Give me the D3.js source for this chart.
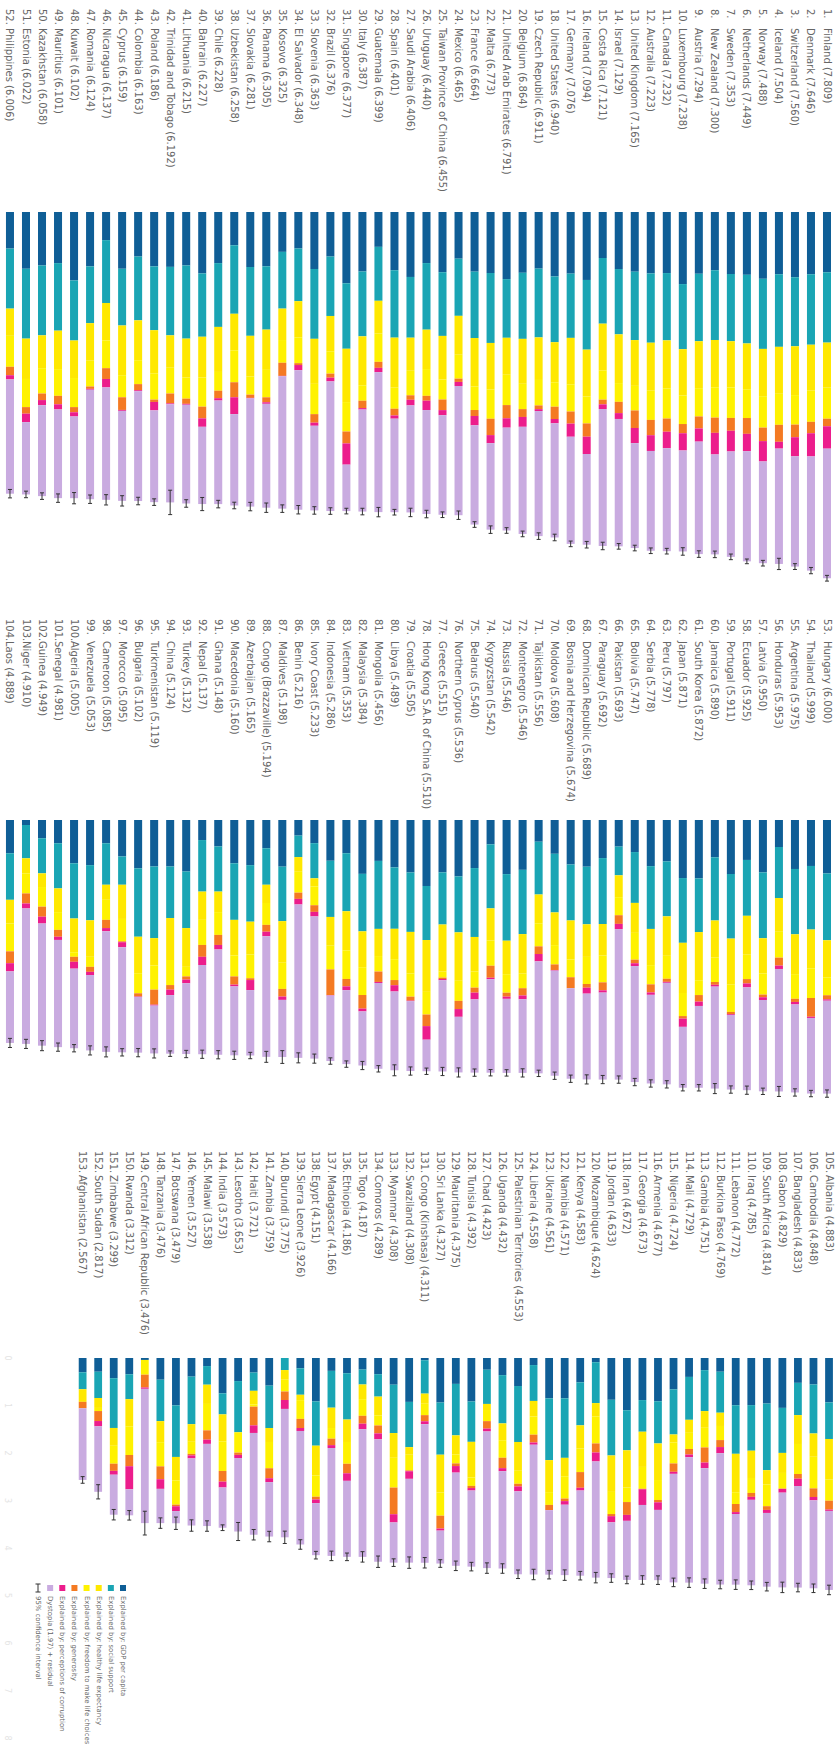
<!DOCTYPE html>
<html>
<head>
<meta charset="utf-8">
<script src="https://cdn.jsdelivr.net/npm/d3@7"></script>
<style>
  body { margin: 0; background: #fff; }
  text { font-family: "DejaVu Sans", sans-serif; }
</style>
</head>
<body>
<div id="chart"></div>
<script>
// ranking order 1..153
var countries = ["Finland","Denmark","Switzerland","Iceland","Norway","Netherlands","Sweden","New Zealand","Austria","Luxembourg",
  "Canada","Australia","United Kingdom","Israel","Costa Rica","Ireland","Germany","United States","Czech Republic","Belgium",
  "United Arab Emirates","Malta","France","Mexico","Taiwan Province of China","Uruguay","Saudi Arabia","Spain","Guatemala","Italy",
  "Singapore","Brazil","Slovenia","El Salvador","Kosovo","Panama","Slovakia","Uzbekistan","Chile","Bahrain",
  "Lithuania","Trinidad and Tobago","Poland","Colombia","Cyprus","Nicaragua","Romania","Kuwait","Mauritius","Kazakhstan",
  "Estonia","Philippines",
  "Hungary","Thailand","Argentina","Honduras","Latvia","Ecuador","Portugal","Jamaica","South Korea","Japan",
  "Peru","Serbia","Bolivia","Pakistan","Paraguay","Dominican Republic","Bosnia and Herzegovina","Moldova","Tajikistan","Montenegro",
  "Russia","Kyrgyzstan","Belarus","Northern Cyprus","Greece","Hong Kong S.A.R of China","Croatia","Libya","Mongolia","Malaysia",
  "Vietnam","Indonesia","Ivory Coast","Benin","Maldives","Congo (Brazzaville)","Azerbaijan","Macedonia","Ghana","Nepal",
  "Turkey","China","Turkmenistan","Bulgaria","Morocco","Cameroon","Venezuela","Algeria","Senegal","Guinea",
  "Niger","Laos",
  "Albania","Cambodia","Bangladesh","Gabon","South Africa","Iraq","Lebanon","Burkina Faso","Gambia","Mali",
  "Nigeria","Armenia","Georgia","Iran","Jordan","Mozambique","Kenya","Namibia","Ukraine","Liberia",
  "Palestinian Territories","Uganda","Chad","Tunisia","Mauritania","Sri Lanka","Congo (Kinshasa)","Swaziland","Myanmar","Comoros",
  "Togo","Ethiopia","Madagascar","Egypt","Sierra Leone","Burundi","Zambia","Haiti","Lesotho","India",
  "Malawi","Yemen","Botswana","Tanzania","Central African Republic","Rwanda","Zimbabwe","South Sudan","Afghanistan"];

var scores = [7.809,7.646,7.560,7.504,7.488,7.449,7.353,7.300,7.294,7.238,
  7.232,7.223,7.165,7.129,7.121,7.094,7.076,6.940,6.911,6.864,
  6.791,6.773,6.664,6.465,6.455,6.440,6.406,6.401,6.399,6.387,
  6.377,6.376,6.363,6.348,6.325,6.305,6.281,6.258,6.228,6.227,
  6.215,6.192,6.186,6.163,6.159,6.137,6.124,6.102,6.101,6.058,
  6.022,6.006,
  6.000,5.999,5.975,5.953,5.950,5.925,5.911,5.890,5.872,5.871,
  5.797,5.778,5.747,5.693,5.692,5.689,5.674,5.608,5.556,5.546,
  5.546,5.542,5.540,5.536,5.515,5.510,5.505,5.489,5.456,5.384,
  5.353,5.286,5.233,5.216,5.198,5.194,5.165,5.160,5.148,5.137,
  5.132,5.124,5.119,5.102,5.095,5.085,5.053,5.005,4.981,4.949,
  4.910,4.889,
  4.883,4.848,4.833,4.829,4.814,4.785,4.772,4.769,4.751,4.729,
  4.724,4.677,4.673,4.672,4.633,4.624,4.583,4.571,4.561,4.558,
  4.553,4.432,4.423,4.392,4.375,4.327,4.311,4.308,4.308,4.289,
  4.187,4.186,4.166,4.151,3.926,3.775,3.759,3.721,3.653,3.573,
  3.538,3.527,3.479,3.476,3.476,3.312,3.299,2.817,2.567];

var gdp = [1.285,1.327,1.391,1.327,1.424,1.339,1.322,1.242,1.317,1.537,
  1.302,1.310,1.273,1.216,0.981,1.449,1.314,1.374,1.207,1.296,
  1.431,1.301,1.272,0.995,1.284,1.089,1.385,1.242,0.743,1.269,
  1.520,0.950,1.215,0.778,0.850,1.158,1.173,0.710,1.090,1.310,
  1.140,1.170,1.160,0.950,1.210,0.600,1.160,1.460,1.090,1.140,
  1.210,0.780,
  1.172,1.008,1.074,0.592,1.150,0.876,1.184,0.818,1.281,1.273,
  0.909,1.012,0.703,0.583,0.835,1.024,0.976,0.741,0.476,1.093,
  1.187,0.534,1.054,1.237,1.149,1.447,1.151,1.040,0.897,1.181,
  0.729,0.894,0.508,0.342,1.023,0.620,0.990,0.950,0.580,0.440,
  1.130,1.020,1.020,1.060,0.800,0.510,0.990,0.950,0.510,0.400,
  0.110,0.730,
  0.935,0.558,0.523,1.050,0.959,0.992,0.995,0.289,0.256,0.398,
  0.661,0.911,0.886,1.100,0.880,0.089,0.513,0.849,0.849,0.149,
  0.590,0.361,0.247,0.916,0.545,0.938,0.047,0.924,0.562,0.341,
  0.244,0.321,0.271,0.914,0.216,0.000,0.582,0.307,0.486,0.744,
  0.170,0.392,0.998,0.457,0.041,0.343,0.425,0.289,0.301];

var social = [1.500,1.503,1.472,1.548,1.495,1.464,1.433,1.487,1.438,1.388,
  1.435,1.477,1.458,1.393,1.400,1.486,1.370,1.402,1.467,1.409,
  1.251,1.491,1.415,1.219,1.358,1.420,1.295,1.437,1.150,1.382,
  1.396,1.267,1.489,1.123,1.210,1.350,1.467,1.460,1.360,1.350,
  1.560,1.460,1.360,1.360,1.210,1.340,1.210,1.280,1.440,1.490,
  1.490,1.280,
  1.465,1.394,1.432,1.119,1.442,1.225,1.417,1.386,1.177,1.420,
  1.204,1.377,1.115,0.630,1.446,1.263,1.227,1.286,1.158,1.409,
  1.460,1.404,1.511,1.227,1.143,1.185,1.303,1.346,1.491,1.261,
  1.272,1.232,0.770,0.471,1.195,0.800,1.240,1.240,0.990,1.130,
  1.240,1.130,1.570,1.500,0.620,0.910,1.210,1.210,0.990,0.770,
  0.730,1.020,
  0.770,1.031,0.679,0.948,1.402,0.960,1.022,0.863,0.862,0.903,
  0.949,0.888,0.666,0.843,1.172,0.860,0.905,1.253,1.301,0.755,
  1.178,1.016,0.720,0.849,1.084,1.098,0.703,0.953,1.018,0.472,
  0.314,0.975,0.775,0.932,0.558,0.254,0.892,0.384,1.077,0.443,
  0.392,1.001,1.085,0.872,0.000,0.523,1.048,0.553,0.356];

var health = [0.961,0.979,1.041,1.001,1.008,0.976,0.986,1.008,1.001,0.986,
  1.023,1.023,0.976,1.039,1.000,0.999,0.990,0.855,0.907,0.958,
  0.788,0.990,1.035,0.829,0.930,0.840,0.705,1.066,0.700,1.044,
  1.137,0.753,0.960,0.772,0.670,0.858,0.867,0.780,0.960,0.870,
  0.830,0.690,0.920,0.850,1.060,0.800,0.800,0.800,0.820,0.700,
  0.860,0.580,
  0.812,0.850,0.874,0.740,0.773,0.853,1.010,0.814,1.056,1.101,
  0.865,0.794,0.657,0.479,0.692,0.715,0.855,0.717,0.631,0.867,
  0.734,0.705,0.757,1.062,1.033,1.137,0.910,0.666,0.596,0.786,
  0.859,0.630,0.179,0.322,0.912,0.400,0.720,0.780,0.450,0.620,
  0.850,0.920,0.600,0.800,0.750,0.330,0.800,0.740,0.520,0.300,
  0.330,0.520,
  0.855,0.490,0.608,0.422,0.300,0.574,0.809,0.279,0.351,0.274,
  0.167,0.770,0.741,0.785,0.767,0.280,0.489,0.388,0.674,0.328,
  0.606,0.354,0.128,0.750,0.401,0.797,0.213,0.159,0.521,0.395,
  0.308,0.472,0.428,0.626,0.113,0.203,0.294,0.287,0.000,0.567,
  0.405,0.371,0.495,0.443,0.000,0.572,0.375,0.209,0.266];

var freedom = [0.662,0.665,0.629,0.662,0.670,0.614,0.650,0.647,0.603,0.610,
  0.644,0.623,0.525,0.400,0.620,0.574,0.580,0.520,0.543,0.540,
  0.647,0.626,0.500,0.510,0.426,0.571,0.523,0.450,0.602,0.329,
  0.627,0.476,0.646,0.550,0.485,0.585,0.387,0.680,0.400,0.620,
  0.450,0.550,0.560,0.510,0.470,0.590,0.550,0.620,0.570,0.540,
  0.600,0.660,
  0.394,0.651,0.541,0.567,0.463,0.535,0.598,0.535,0.325,0.506,
  0.504,0.421,0.588,0.396,0.587,0.594,0.390,0.423,0.506,0.320,
  0.407,0.553,0.354,0.440,0.131,0.497,0.510,0.458,0.339,0.610,
  0.626,0.521,0.412,0.458,0.574,0.480,0.520,0.460,0.500,0.550,
  0.210,0.550,0.530,0.440,0.490,0.440,0.220,0.100,0.390,0.430,
  0.440,0.610,
  0.444,0.666,0.632,0.330,0.459,0.315,0.248,0.297,0.414,0.340,
  0.443,0.420,0.460,0.305,0.466,0.570,0.495,0.469,0.269,0.382,
  0.274,0.369,0.234,0.177,0.189,0.487,0.240,0.330,0.627,0.212,
  0.351,0.459,0.224,0.448,0.394,0.248,0.553,0.046,0.429,0.624,
  0.556,0.254,0.509,0.509,0.310,0.604,0.377,0.066,0.000];

var generosity = [0.160,0.243,0.269,0.362,0.288,0.337,0.273,0.325,0.256,0.196,
  0.281,0.326,0.373,0.240,0.100,0.282,0.258,0.263,0.080,0.167,
  0.281,0.349,0.127,0.070,0.226,0.103,0.096,0.143,0.128,0.157,
  0.254,0.086,0.182,0.040,0.279,0.106,0.069,0.320,0.160,0.250,
  0.110,0.210,0.050,0.130,0.270,0.230,0.050,0.110,0.180,0.140,
  0.140,0.180,
  0.090,0.411,0.069,0.175,0.059,0.095,0.046,0.061,0.144,0.055,
  0.067,0.177,0.078,0.190,0.175,0.082,0.240,0.122,0.168,0.159,
  0.086,0.263,0.110,0.180,0.032,0.254,0.086,0.113,0.228,0.298,
  0.162,0.562,0.146,0.137,0.168,0.150,0.040,0.180,0.220,0.260,
  0.070,0.100,0.330,0.070,0.020,0.180,0.110,0.110,0.150,0.220,
  0.220,0.260,
  0.187,0.181,0.098,0.006,0.078,0.082,0.170,0.147,0.318,0.117,
  0.176,0.049,0.010,0.270,0.045,0.190,0.330,0.054,0.107,0.165,
  0.055,0.219,0.157,0.046,0.056,0.270,0.129,0.018,0.561,0.167,
  0.166,0.200,0.136,0.058,0.193,0.179,0.210,0.394,0.048,0.225,
  0.196,0.032,0.034,0.271,0.270,0.236,0.151,0.210,0.135];

var corruption = [0.478,0.495,0.408,0.145,0.434,0.369,0.442,0.461,0.281,0.368,
  0.351,0.336,0.323,0.125,0.100,0.370,0.280,0.092,0.040,0.210,
  0.200,0.172,0.200,0.087,0.110,0.200,0.120,0.069,0.092,0.031,
  0.453,0.080,0.066,0.110,0.008,0.033,0.011,0.360,0.050,0.180,
  0.020,0.020,0.180,0.020,0.020,0.180,0.020,0.090,0.110,0.110,
  0.180,0.090,
  0.030,0.027,0.055,0.074,0.060,0.087,0.019,0.040,0.095,0.181,
  0.022,0.053,0.062,0.114,0.050,0.130,0.000,0.014,0.161,0.083,
  0.048,0.031,0.148,0.170,0.026,0.298,0.012,0.138,0.023,0.062,
  0.084,0.011,0.100,0.123,0.073,0.100,0.220,0.040,0.100,0.180,
  0.080,0.120,0.020,0.010,0.110,0.070,0.070,0.150,0.070,0.150,
  0.110,0.180,
  0.028,0.071,0.155,0.079,0.064,0.063,0.040,0.130,0.118,0.057,
  0.043,0.160,0.331,0.125,0.130,0.189,0.058,0.076,0.005,0.047,
  0.104,0.064,0.061,0.052,0.138,0.044,0.062,0.160,0.173,0.124,
  0.116,0.159,0.061,0.077,0.062,0.188,0.082,0.160,0.066,0.123,
  0.089,0.064,0.102,0.203,0.028,0.486,0.081,0.111,0.001];

// half width of the 95% confidence interval
var ciHalf = [0.061,0.067,0.062,0.120,0.060,0.050,0.060,0.070,0.070,0.080,
  0.060,0.060,0.060,0.060,0.080,0.070,0.060,0.070,0.070,0.060,
  0.060,0.080,0.060,0.090,0.060,0.080,0.090,0.060,0.100,0.070,
  0.060,0.070,0.080,0.090,0.080,0.100,0.090,0.070,0.080,0.140,
  0.080,0.260,0.070,0.080,0.110,0.110,0.090,0.120,0.090,0.070,
  0.070,0.090,
  0.080,0.070,0.080,0.110,0.070,0.090,0.080,0.110,0.070,0.070,
  0.080,0.080,0.080,0.080,0.090,0.100,0.080,0.080,0.070,0.090,
  0.070,0.070,0.080,0.100,0.090,0.070,0.090,0.120,0.070,0.090,
  0.070,0.070,0.100,0.110,0.140,0.120,0.070,0.090,0.090,0.090,
  0.080,0.060,0.100,0.090,0.080,0.110,0.100,0.080,0.090,0.110,
  0.100,0.100,
  0.100,0.090,0.090,0.110,0.090,0.090,0.100,0.090,0.100,0.100,
  0.090,0.090,0.090,0.080,0.090,0.110,0.090,0.110,0.090,0.110,
  0.090,0.100,0.110,0.090,0.100,0.080,0.110,0.120,0.080,0.120,
  0.110,0.080,0.100,0.080,0.100,0.130,0.110,0.110,0.190,0.060,
  0.110,0.120,0.130,0.110,0.250,0.100,0.110,0.150,0.070];

var keys = ["gdp", "social", "health", "freedom", "generosity", "corruption", "dystopia"];
var colors = ["#0f5e96", "#1aa5b4", "#ffe800", "#fff200", "#f47a22", "#ec1d8c", "#c9abe0"];
var legendLabels = ["Explained by: GDP per capita", "Explained by: social support",
  "Explained by: healthy life expectancy", "Explained by: freedom to make life choices",
  "Explained by: generosity", "Explained by: perceptions of corruption",
  "Dystopia (1.97) + residual", "95% confidence interval"];
var axisTicks = [0, 1, 2, 3, 4, 5, 6, 7, 8];

// the chart is drawn in its original horizontal form and turned a quarter clockwise
var W = 835, H = 1753;

var panels = [
  { from: 0, to: 52, numAt: 9, nameAt: 28, base: 212, unit: 46.9, v0: 0, step: 16.02 },
  { from: 52, to: 104, numAt: 619, nameAt: 641, base: 820, unit: 45.6, v0: 0, step: 16.02 },
  { from: 104, to: 153, numAt: 1151, nameAt: 1175, base: 1358, unit: 47.5, v0: -1.8, step: 15.55 }
];

var rows = countries.map(function (c, i) {
  var r = { rank: i + 1, name: c, score: scores[i], ci: ciHalf[i],
    gdp: gdp[i], social: social[i], health: health[i], freedom: freedom[i],
    generosity: generosity[i], corruption: corruption[i] };
  r.dystopia = r.score - (r.gdp + r.social + r.health + r.freedom + r.generosity + r.corruption);
  return r;
});

var color = d3.scaleOrdinal().domain(keys).range(colors);

var svg = d3.select("#chart")
  .append("svg")
  .attr("width", W)
  .attr("height", H);

var g = svg.append("g")
  .attr("transform", "translate(" + W + ",0) rotate(90)");

panels.forEach(function (p, pi) {
  var data = rows.slice(p.from, p.to);

  var x = d3.scaleLinear()
    .domain([0, 8])
    .range([p.base, p.base + 8 * p.unit]);

  var y = d3.scaleBand()
    .domain(d3.range(52))
    .range([p.v0, p.v0 + 52 * p.step])
    .paddingInner(0.5)
    .paddingOuter(0.25);

  var series = d3.stack().keys(keys)(data);

  var pg = g.append("g").attr("class", "panel" + pi);

  // stacked segments
  pg.selectAll("g.seg")
    .data(series)
    .enter()
    .append("g")
    .attr("class", "seg")
    .attr("fill", function (d) { return color(d.key); })
    .selectAll("rect")
    .data(function (d) { return d; })
    .enter()
    .append("rect")
    .attr("x", function (d) { return x(d[0]); })
    .attr("width", function (d) { return Math.max(0, x(d[1]) - x(d[0])); })
    .attr("y", function (d, i) { return y(i); })
    .attr("height", y.bandwidth());

  // confidence interval whiskers
  var cap = 2;
  var wk = pg.selectAll("g.ci")
    .data(data)
    .enter()
    .append("g")
    .attr("class", "ci")
    .attr("stroke", "#333")
    .attr("stroke-width", 1);
  wk.append("line")
    .attr("x1", function (d) { return x(d.score - d.ci); })
    .attr("x2", function (d) { return x(d.score + d.ci); })
    .attr("y1", function (d, i) { return y(i) + y.bandwidth() / 2; })
    .attr("y2", function (d, i) { return y(i) + y.bandwidth() / 2; });
  wk.append("line")
    .attr("x1", function (d) { return x(d.score - d.ci); })
    .attr("x2", function (d) { return x(d.score - d.ci); })
    .attr("y1", function (d, i) { return y(i) + y.bandwidth() / 2 - cap; })
    .attr("y2", function (d, i) { return y(i) + y.bandwidth() / 2 + cap; });
  wk.append("line")
    .attr("x1", function (d) { return x(d.score + d.ci); })
    .attr("x2", function (d) { return x(d.score + d.ci); })
    .attr("y1", function (d, i) { return y(i) + y.bandwidth() / 2 - cap; })
    .attr("y2", function (d, i) { return y(i) + y.bandwidth() / 2 + cap; });

  // country labels
  var lab = pg.selectAll("g.lab")
    .data(data)
    .enter()
    .append("g")
    .attr("class", "lab")
    .attr("font-size", "10px")
    .attr("fill", "#666");
  lab.append("text")
    .attr("x", p.numAt)
    .attr("y", function (d, i) { return y(i) + y.bandwidth() / 2; })
    .attr("dominant-baseline", "central")
    .text(function (d) { return d.rank + "."; });
  lab.append("text")
    .attr("x", p.nameAt)
    .attr("y", function (d, i) { return y(i) + y.bandwidth() / 2; })
    .attr("dominant-baseline", "central")
    .text(function (d) { return d.name + " (" + d.score.toFixed(3) + ")"; });

  if (pi === 2) {
    // faint axis numbers under the last panel
    pg.selectAll("text.tick")
      .data(axisTicks)
      .enter()
      .append("text")
      .attr("class", "tick")
      .attr("x", function (d) { return x(d); })
      .attr("y", 828)
      .attr("text-anchor", "middle")
      .attr("dominant-baseline", "central")
      .attr("font-size", "8px")
      .attr("fill", "#e4e4e4")
      .text(function (d) { return d; });

    // legend
    var ly = d3.scaleLinear().domain([0, 7]).range([712, 797]);
    var leg = pg.selectAll("g.legend")
      .data(legendLabels)
      .enter()
      .append("g")
      .attr("class", "legend");
    leg.filter(function (d, i) { return i < 7; })
      .append("rect")
      .attr("x", 1585)
      .attr("y", function (d, i) { return ly(i) - 3; })
      .attr("width", 6)
      .attr("height", 6)
      .attr("fill", function (d, i) { return colors[i]; });
    var ciLeg = leg.filter(function (d, i) { return i === 7; })
      .append("g")
      .attr("stroke", "#333")
      .attr("stroke-width", 1);
    ciLeg.append("line").attr("x1", 1584).attr("x2", 1592).attr("y1", ly(7)).attr("y2", ly(7));
    ciLeg.append("line").attr("x1", 1584).attr("x2", 1584).attr("y1", ly(7) - 2.5).attr("y2", ly(7) + 2.5);
    ciLeg.append("line").attr("x1", 1592).attr("x2", 1592).attr("y1", ly(7) - 2.5).attr("y2", ly(7) + 2.5);
    leg.append("text")
      .attr("x", 1596)
      .attr("y", function (d, i) { return ly(i); })
      .attr("dominant-baseline", "central")
      .attr("font-size", "6.9px")
      .attr("fill", "#666")
      .text(function (d) { return d; });
  }
});
</script>
</body>
</html>
